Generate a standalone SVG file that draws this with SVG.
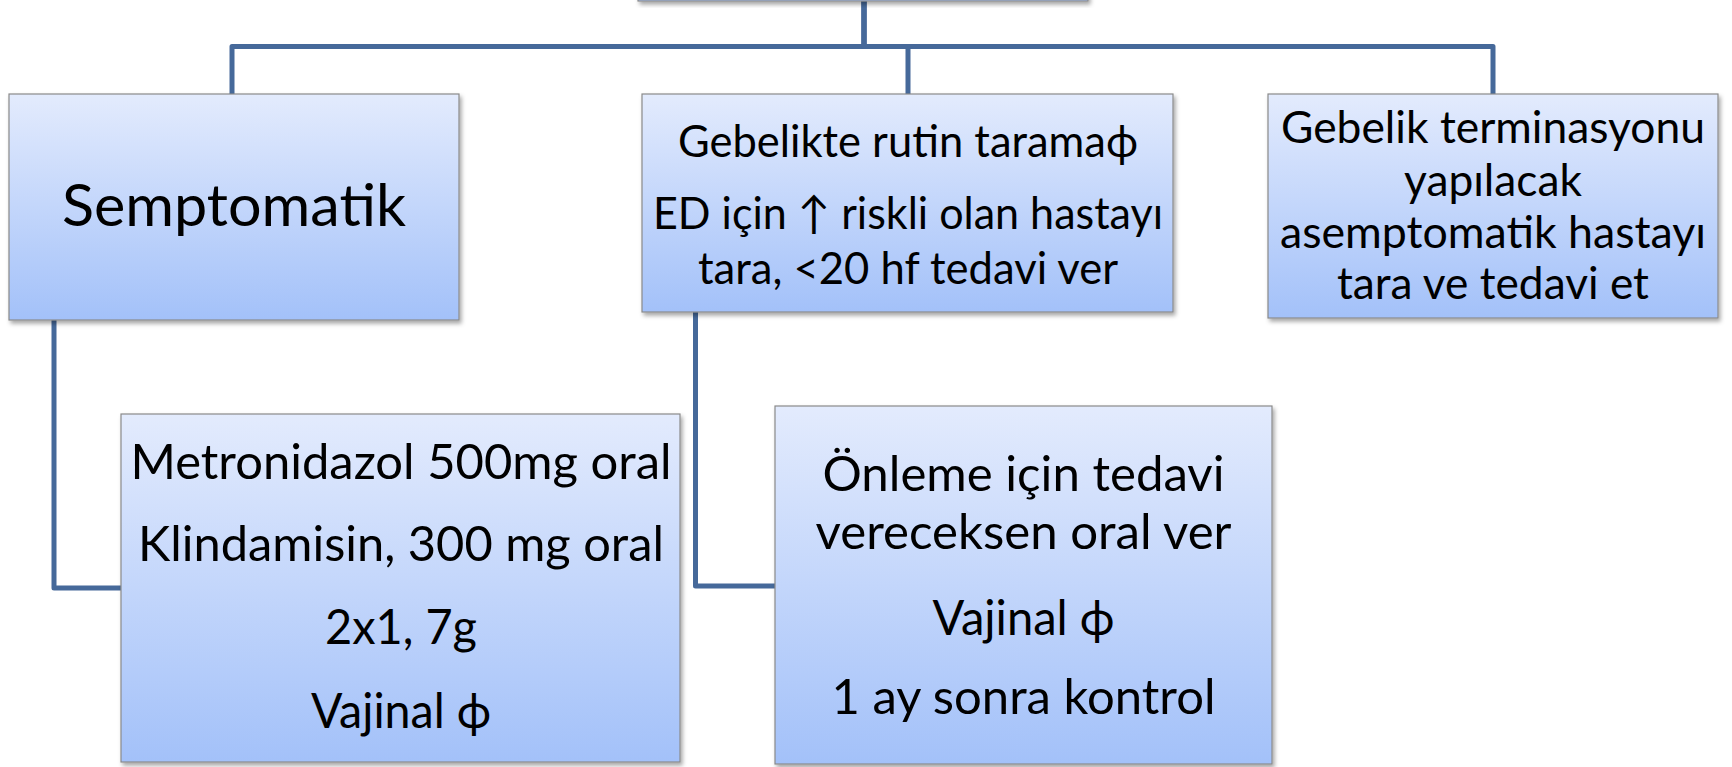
<svg xmlns="http://www.w3.org/2000/svg" width="1732" height="767" viewBox="0 0 1732 767">
  <defs>
    <linearGradient id="fillGrad" x1="0" y1="0" x2="0" y2="1">
      <stop offset="0" stop-color="#E3EBFD"/>
      <stop offset="1" stop-color="#A3C1F9"/>
    </linearGradient>
    <filter id="shadow" x="-5%" y="-5%" width="112%" height="115%">
      <feDropShadow dx="2" dy="3" stdDeviation="2" flood-color="#000" flood-opacity="0.35"/>
    </filter>
  </defs>
  <style>
    .box { fill: url(#fillGrad); stroke: #8A8A8A; stroke-width: 1.2; filter: url(#shadow); }
    .conn { fill: none; stroke: #46699A; stroke-width: 5; stroke-linejoin: round; }
    .t { font-family: Lato, "DejaVu Sans", sans-serif; fill: #000; text-anchor: middle; }
    .big { font-size: 59px; }
    .mid { font-size: 48.5px; }
    .sm { font-size: 44.5px; }
  </style>

  <g id="connectors">
    <path class="conn" d="M864 0 V46.5 H232 V94"/>
    <path class="conn" d="M864 0 V46.5 H908 V94"/>
    <path class="conn" d="M864 0 V46.5 H1493 V94"/>
    <path class="conn" d="M54 320 V588 H121"/>
    <path class="conn" d="M695.5 312 V586 H775"/>
  </g>

  <g id="node-top">
    <rect class="box" x="638" y="-60" width="450" height="61"/>
  </g>

  <g id="node-semptomatik">
    <rect class="box" x="9" y="94" width="450" height="226"/>
    <text class="t big" x="234" y="226" textLength="344" lengthAdjust="spacingAndGlyphs">Semptomatik</text>
  </g>

  <g id="node-rutin">
    <rect class="box" x="642" y="94" width="531" height="218"/>
    <text class="t sm" x="908" y="157" textLength="460" lengthAdjust="spacingAndGlyphs">Gebelikte rutin taramaϕ</text>
    <text class="t sm" x="908" y="229" textLength="510" lengthAdjust="spacingAndGlyphs">ED için ↑ riskli olan hastayı</text>
    <text class="t sm" x="908" y="284" textLength="420" lengthAdjust="spacingAndGlyphs">tara, &lt;20 hf tedavi ver</text>
  </g>

  <g id="node-terminasyon">
    <rect class="box" x="1268" y="94" width="450" height="224"/>
    <text class="t sm" x="1493" y="143" textLength="424" lengthAdjust="spacingAndGlyphs">Gebelik terminasyonu</text>
    <text class="t sm" x="1493" y="196" textLength="178" lengthAdjust="spacingAndGlyphs">yapılacak</text>
    <text class="t sm" x="1493" y="248" textLength="426" lengthAdjust="spacingAndGlyphs">asemptomatik hastayı</text>
    <text class="t sm" x="1493" y="299" textLength="312" lengthAdjust="spacingAndGlyphs">tara ve tedavi et</text>
  </g>

  <g id="node-metronidazol">
    <rect class="box" x="121" y="414" width="559" height="348"/>
    <text class="t mid" x="401" y="479" textLength="541" lengthAdjust="spacingAndGlyphs">Metronidazol 500mg oral</text>
    <text class="t mid" x="401" y="561" textLength="526" lengthAdjust="spacingAndGlyphs">Klindamisin, 300 mg oral</text>
    <text class="t mid" x="401" y="644" textLength="152" lengthAdjust="spacingAndGlyphs">2x1, 7g</text>
    <text class="t mid" x="401" y="728" textLength="180" lengthAdjust="spacingAndGlyphs">Vajinal ϕ</text>
  </g>

  <g id="node-onleme">
    <rect class="box" x="775" y="406" width="497" height="358"/>
    <text class="t mid" x="1023.5" y="491" textLength="402" lengthAdjust="spacingAndGlyphs">Önleme için tedavi</text>
    <text class="t mid" x="1023.5" y="549" textLength="416" lengthAdjust="spacingAndGlyphs">vereceksen oral ver</text>
    <text class="t mid" x="1023.5" y="635" textLength="182" lengthAdjust="spacingAndGlyphs">Vajinal ϕ</text>
    <text class="t mid" x="1023.5" y="714" textLength="384" lengthAdjust="spacingAndGlyphs">1 ay sonra kontrol</text>
  </g>
</svg>
